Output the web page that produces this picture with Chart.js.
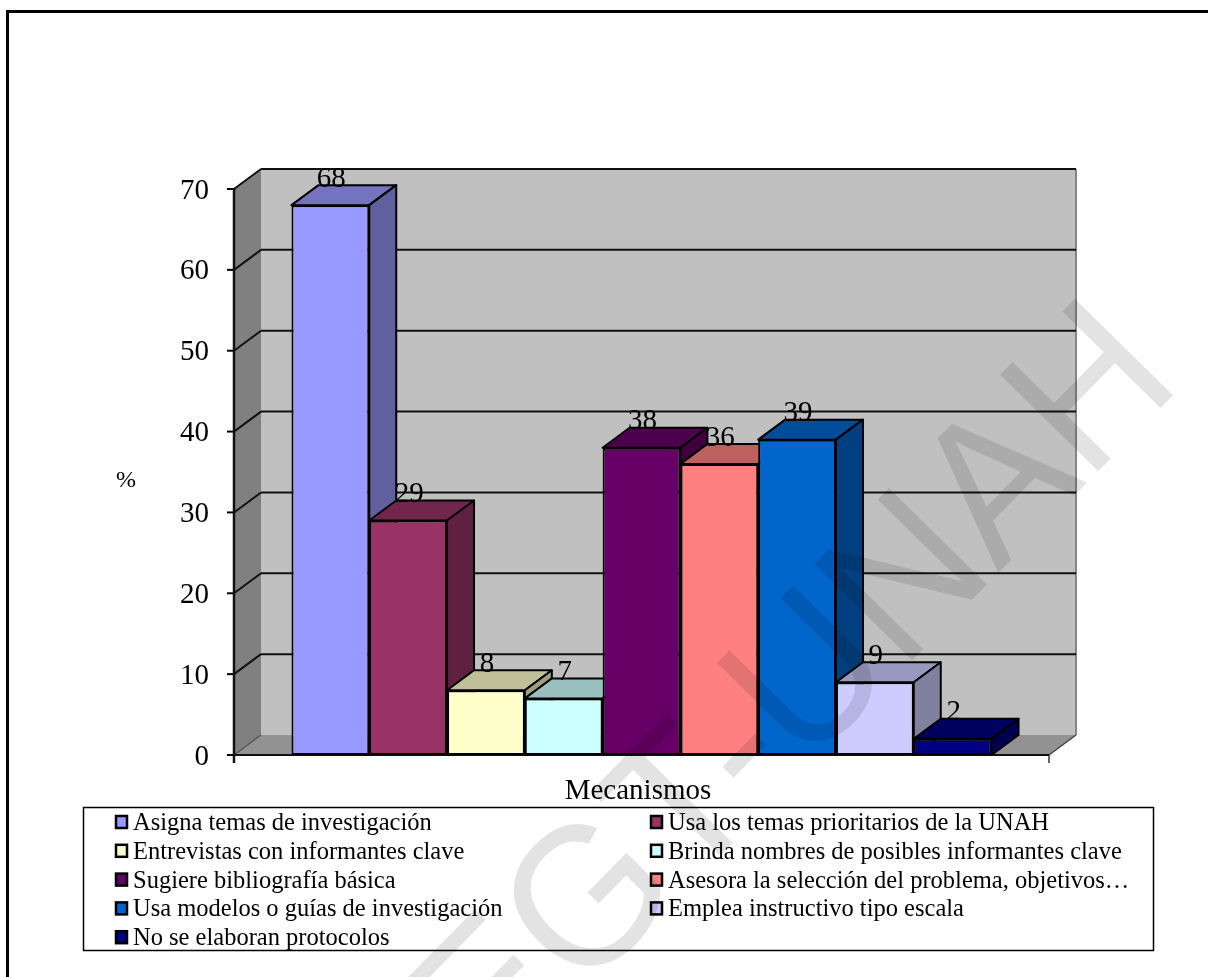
<!DOCTYPE html>
<html>
<head>
<meta charset="utf-8">
<title>Mecanismos</title>
<script src="https://cdn.jsdelivr.net/npm/chart.js@4/dist/chart.umd.min.js"></script>
<style>
  html, body { margin: 0; padding: 0; background: #fff; }
  canvas { display: block; }
</style>
</head>
<body>
<canvas id="chart" width="1208" height="977"></canvas>
<script>
const mecanismos = [
  "Asigna temas de investigación",
  "Usa los temas prioritarios de la UNAH",
  "Entrevistas con informantes clave",
  "Brinda nombres de posibles informantes clave",
  "Sugiere bibliografía básica",
  "Asesora la selección del problema, objetivos…",
  "Usa modelos o guías de investigación",
  "Emplea instructivo tipo escala",
  "No se elaboran protocolos"
];
const porcentajes = [68, 29, 8, 7, 38, 36, 39, 9, 2];
const colores = ["#9999ff", "#993366", "#ffffcc", "#ccffff", "#660066", "#ff8080", "#0066cc", "#ccccff", "#000080"];
const yMax = 70;
const yPaso = 10;
const tituloX = "Mecanismos";
const tituloY = "%";
const marcaAgua = "DEGT-UNAH";

const FUENTE = '"Liberation Serif", "Times New Roman", serif';
// profundidad de la vista 3D
const DX = 27, DY = -20;

// oscurece un color hex para las caras superior y lateral
function sombra(hex, f) {
  const n = parseInt(hex.slice(1), 16);
  const r = Math.round((n >> 16 & 255) * f);
  const g = Math.round((n >> 8 & 255) * f);
  const b = Math.round((n & 255) * f);
  return `rgb(${r},${g},${b})`;
}

function poligono(ctx, pts, fill, stroke, lw) {
  ctx.beginPath();
  pts.forEach((p, i) => i ? ctx.lineTo(p[0], p[1]) : ctx.moveTo(p[0], p[1]));
  ctx.closePath();
  if (fill) { ctx.fillStyle = fill; ctx.fill(); }
  if (stroke) { ctx.strokeStyle = stroke; ctx.lineWidth = lw; ctx.stroke(); }
}

function linea(ctx, x1, y1, x2, y2, color, lw) {
  ctx.beginPath();
  ctx.moveTo(x1, y1);
  ctx.lineTo(x2, y2);
  ctx.strokeStyle = color;
  ctx.lineWidth = lw;
  ctx.stroke();
}

/* paredes, piso y rejilla */
const paredes = {
  id: "paredes",
  beforeDatasetsDraw(chart) {
    const { ctx, chartArea: a, scales: { y } } = chart;
    ctx.save();
    poligono(ctx, [[a.left + DX, a.top + DY], [a.right + DX, a.top + DY], [a.right + DX, a.bottom + DY], [a.left + DX, a.bottom + DY]], "#c0c0c0");
    poligono(ctx, [[a.left, a.top], [a.left + DX, a.top + DY], [a.left + DX, a.bottom + DY], [a.left, a.bottom]], "#808080");
    poligono(ctx, [[a.left, a.bottom], [a.left + DX, a.bottom + DY], [a.right + DX, a.bottom + DY], [a.right, a.bottom]], "#929292");
    linea(ctx, a.right + DX, a.top + DY, a.right + DX, a.bottom + DY, "#858585", 2);
    linea(ctx, a.right, a.bottom, a.right + DX, a.bottom + DY, "#444", 1.5);
    linea(ctx, a.left, a.bottom, a.left + DX, a.bottom + DY, "#555", 1.5);
    for (let v = yPaso; v <= yMax; v += yPaso) {
      const py = y.getPixelForValue(v);
      linea(ctx, a.left, py, a.left + DX, py + DY, "#111", 2);
      linea(ctx, a.left + DX, py + DY, a.right + DX, py + DY, "#111", 2);
    }
    // marcas de los ejes
    for (let v = 0; v <= yMax; v += yPaso) {
      const py = y.getPixelForValue(v);
      linea(ctx, a.left - 7, py, a.left, py, "#000", 2);
    }
    linea(ctx, a.left, a.top, a.left, a.bottom + 8, "#111", 2.5);
    linea(ctx, a.right, a.bottom, a.right, a.bottom + 8, "#333", 1.5);
    linea(ctx, a.left, a.bottom, a.right, a.bottom, "#111", 2);
    ctx.restore();
  }
};

/* caras superior y lateral de cada barra, con su etiqueta */
const caras3d = {
  id: "caras3d",
  beforeDatasetsDraw(chart) {
    const { ctx } = chart;
    const barras = chart.data.datasets.map((d, i) => chart.getDatasetMeta(i).data[0]);
    ctx.save();
    ctx.lineJoin = "round";
    barras.forEach((b, i) => {
      const w = b.width / 2;
      const l = b.x - w, r = b.x + w, t = b.y, base = b.base;
      poligono(ctx, [[l, t], [l + DX, t + DY], [r + DX, t + DY], [r, t]], sombra(colores[i], 0.75), "#000", 2);
      poligono(ctx, [[r, t], [r + DX, t + DY], [r + DX, base + DY], [r, base]], sombra(colores[i], 0.625), "#000", 2);
    });
    ctx.restore();
  },
  afterDatasetsDraw(chart) {
    const { ctx } = chart;
    ctx.save();
    ctx.fillStyle = "#000";
    ctx.font = "29px " + FUENTE;
    ctx.textAlign = "center";
    ctx.textBaseline = "middle";
    chart.data.datasets.forEach((d, i) => {
      const b = chart.getDatasetMeta(i).data[0];
      ctx.save();
      // el 36 queda parcialmente detrás del lateral de la barra anterior
      if (i === 5) {
        const prev = chart.getDatasetMeta(i - 1).data[0];
        const limite = prev.x + prev.width / 2 + DX;
        ctx.beginPath();
        ctx.rect(limite, 0, chart.width, chart.height);
        ctx.clip();
      }
      ctx.fillText(String(d.data[0]), b.x + 1, b.y - 26);
      ctx.restore();
    });
    ctx.restore();
  }
};

/* títulos, leyenda, marco y marca de agua */
const extras = {
  id: "extras",
  afterDraw(chart) {
    const { ctx, width, height } = chart;
    ctx.save();

    // marco de la figura
    ctx.fillStyle = "#000";
    ctx.fillRect(6, 10, width - 6, 3);
    ctx.fillRect(6, 10, 3, height - 10);

    ctx.fillStyle = "#000";
    ctx.textBaseline = "middle";
    ctx.textAlign = "center";
    ctx.font = "29px " + FUENTE;
    ctx.fillText(tituloX, 638, 791);
    ctx.font = "24px " + FUENTE;
    ctx.fillText(tituloY, 126, 481);

    // leyenda en dos columnas
    ctx.strokeStyle = "#000";
    ctx.lineWidth = 1.5;
    ctx.strokeRect(83.5, 807.5, 1070, 143);
    ctx.textAlign = "left";
    ctx.font = "24.5px " + FUENTE;
    chart.data.datasets.forEach((d, i) => {
      const col = i % 2, fila = Math.floor(i / 2);
      const x = col ? 650 : 115;
      const y = 822 + fila * 28.8;
      ctx.fillStyle = d.backgroundColor;
      ctx.strokeStyle = "#000";
      ctx.lineWidth = 2.5;
      ctx.fillRect(x + 1, y - 6, 11, 12);
      ctx.strokeRect(x + 1, y - 6, 11, 12);
      ctx.fillStyle = "#000";
      ctx.fillText(d.label, x + 18, y + 1.5);
    });

    // marca de agua diagonal
    ctx.save();
    ctx.translate(1184, 384);
    ctx.rotate(-45.5 * Math.PI / 180);
    ctx.scale(0.955, 1);
    ctx.font = '200px "Liberation Sans", Arial, sans-serif';
    ctx.textAlign = "right";
    ctx.textBaseline = "alphabetic";
    ctx.fillStyle = "rgba(0,0,0,0.11)";
    ctx.fillText(marcaAgua, 0, 0);
    ctx.restore();

    ctx.restore();
  }
};

const ctx = document.getElementById("chart").getContext("2d");
new Chart(ctx, {
  type: "bar",
  data: {
    labels: [""],
    datasets: mecanismos.map((nombre, i) => ({
      label: nombre,
      data: [porcentajes[i]],
      backgroundColor: colores[i],
      borderColor: "#000",
      borderWidth: 2,
      borderSkipped: false
    }))
  },
  options: {
    responsive: false,
    animation: false,
    layout: { padding: { left: 0, top: 189, right: 159, bottom: 222 } },
    datasets: { bar: { barPercentage: 1, categoryPercentage: 0.859 } },
    plugins: { legend: { display: false }, tooltip: { enabled: false } },
    scales: {
      x: { display: false },
      y: {
        min: 0,
        max: yMax,
        afterFit(scale) { scale.width = 234; },
        grid: { display: false },
        border: { display: false },
        ticks: {
          stepSize: yPaso,
          padding: 17,
          labelOffset: 2,
          color: "#000",
          font: { family: FUENTE, size: 29 }
        }
      }
    }
  },
  plugins: [paredes, caras3d, extras]
});
</script>
</body>
</html>
